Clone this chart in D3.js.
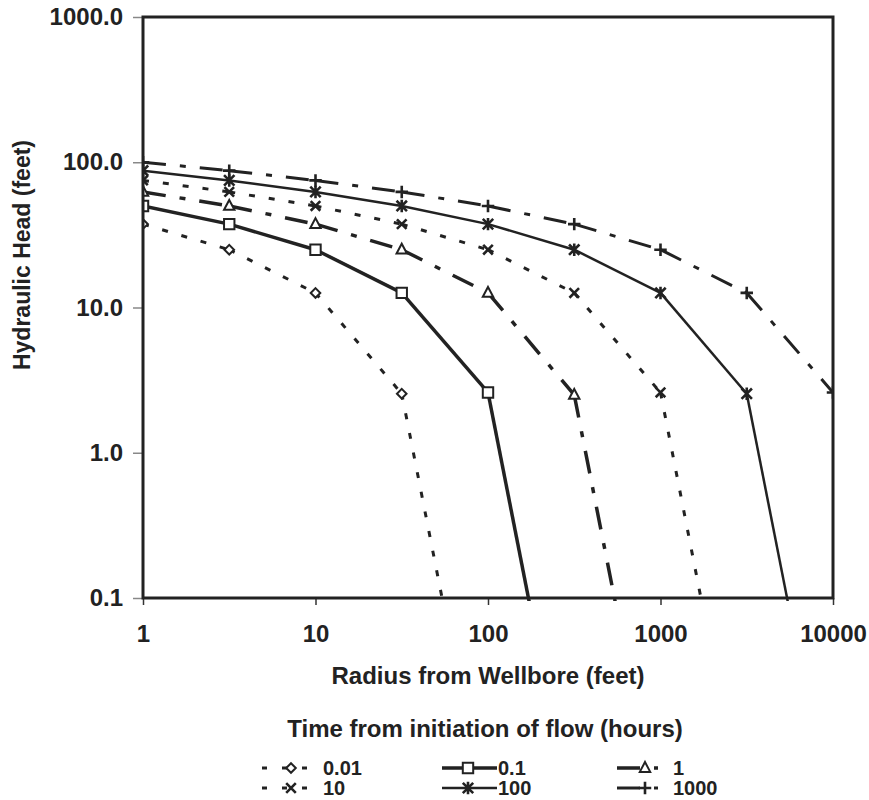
<!DOCTYPE html>
<html><head><meta charset="utf-8">
<script src="https://cdn.jsdelivr.net/npm/d3@7"></script>
<style>
body{margin:0;background:#fff}
svg{display:block}
text{font-family:"Liberation Sans",Arial,sans-serif;font-weight:bold;fill:#222}
</style>
</head><body>
<svg id="chart" width="869" height="800"></svg>
<script>
// Radial distances (feet) at which head was computed
const radii = [1, 3.162, 10, 31.62, 100, 316.2, 1000, 3162, 10000];
// Elapsed time labels (hours)
const timeLabels = ["0.01", "0.1", "1", "10", "100", "1000"];
// Hydraulic head (feet) per time step, one value per radius
const head_t0_01 = [37.5, 25, 12.6, 2.55, 0.0025];
const head_t0_1 = [50, 37.5, 25, 12.6, 2.6, 0.0025];
const head_t1 = [62.5, 50, 37.5, 25, 12.6, 2.5, 0.0025];
const head_t10 = [75, 62.5, 50, 37.5, 25, 12.6, 2.6, 0.0025];
const head_t100 = [87.5, 75, 62.5, 50, 37.5, 25, 12.6, 2.55, 0.0025];
const head_t1000 = [100, 87.5, 75, 62.5, 50, 37.5, 25, 12.6, 2.6];
// Axis tick values and labels
const xTicks = [1, 10, 100, 1000, 10000];
const yTicks = [0.1, 1, 10, 100, 1000];
const yTickLabels = ["0.1", "1.0", "10.0", "100.0", "1000.0"];

const heads = [head_t0_01, head_t0_1, head_t1, head_t10, head_t100, head_t1000];

// Line / marker appearance for each series
const seriesStyle = [
  {dash: "6,14", width: 3, marker: "diamond"},
  {dash: null, width: 3.5, marker: "square"},
  {dash: "23,14,6,14", width: 3.5, marker: "triangle"},
  {dash: "6,14", width: 3, marker: "x"},
  {dash: null, width: 2.5, marker: "asterisk"},
  {dash: "23,14,6,14", width: 3, marker: "plus"}
];

const ink = "#222";
const svg = d3.select("#chart");
const m = {left: 143, right: 833, top: 17, bottom: 598};

const x = d3.scaleLog().domain([1, 10000]).range([m.left, m.right]);
const y = d3.scaleLog().domain([0.1, 1000]).range([m.bottom, m.top]);

function markerPath(type, r) {
  switch (type) {
    case "diamond": return `M0,${-r}L${r},0L0,${r}L${-r},0Z`;
    case "square": return `M${-r},${-r}H${r}V${r}H${-r}Z`;
    case "triangle": return `M0,${-r * 1.15}L${r},${r * 0.75}L${-r},${r * 0.75}Z`;
    case "x": return `M${-r},${-r}L${r},${r}M${r},${-r}L${-r},${r}`;
    case "asterisk": return `M${-r},${-r}L${r},${r}M${r},${-r}L${-r},${r}M0,${-r * 1.2}V${r * 1.2}`;
    case "plus": return `M${-r * 1.2},0H${r * 1.2}M0,${-r * 1.2}V${r * 1.2}`;
  }
}
const markerSize = {diamond: 4.8, square: 5.2, triangle: 5.2, x: 4.8, asterisk: 5.2, plus: 5.2};
const filled = {diamond: true, square: true, triangle: true};

function drawMarker(g, type, cx, cy) {
  g.append("path")
    .attr("d", markerPath(type, markerSize[type]))
    .attr("transform", `translate(${cx},${cy})`)
    .attr("fill", filled[type] ? "#fff" : "none")
    .attr("stroke", ink)
    .attr("stroke-width", type === "x" || type === "asterisk" || type === "plus" ? 2.6 : 2);
}

// Clip region for the plotted curves
svg.append("defs").append("clipPath").attr("id", "plotClip")
  .append("rect").attr("x", m.left).attr("y", m.top)
  .attr("width", m.right - m.left).attr("height", m.bottom - m.top + 3);

// Axes
const yAxis = d3.axisLeft(y).tickValues(yTicks).tickFormat((d, i) => yTickLabels[i]).tickSize(10).tickPadding(10);
const gy = svg.append("g").attr("transform", `translate(${m.left},0)`).call(yAxis);
gy.select(".domain").remove();
gy.selectAll(".tick line").attr("stroke", "#888").attr("stroke-width", 1.5);
gy.selectAll(".tick text").attr("font-size", 24).attr("fill", ink).attr("font-family", null);

const xAxis = d3.axisBottom(x).tickValues(xTicks).tickFormat(d3.format("d")).tickSize(7).tickPadding(20);
const gx = svg.append("g").attr("transform", `translate(0,${m.bottom})`).call(xAxis);
gx.select(".domain").remove();
gx.selectAll(".tick line").attr("stroke", "#333").attr("stroke-width", 1.5);
gx.selectAll(".tick text").attr("font-size", 24).attr("fill", ink).attr("font-family", null);

// Curves: each segment is stroked on its own so the dash pattern restarts at every point
const line = d3.line().x(d => x(d[0])).y(d => y(d[1]));
const plot = svg.append("g").attr("clip-path", "url(#plotClip)");
heads.forEach((vals, si) => {
  const st = seriesStyle[si];
  const pts = vals.map((v, i) => [radii[i], v]);
  const g = plot.append("g");
  d3.pairs(pts).forEach(seg => {
    g.append("path").attr("d", line(seg))
      .attr("fill", "none").attr("stroke", ink)
      .attr("stroke-width", st.width)
      .attr("stroke-dasharray", st.dash);
  });
  pts.filter(p => p[1] >= 0.1).forEach(p => drawMarker(g, st.marker, x(p[0]), y(p[1])));
});

// Plot frame
svg.append("rect").attr("x", m.left).attr("y", m.top)
  .attr("width", m.right - m.left).attr("height", m.bottom - m.top)
  .attr("fill", "none").attr("stroke", ink).attr("stroke-width", 3);

// Axis titles
svg.append("text").attr("x", (m.left + m.right) / 2).attr("y", 684)
  .attr("text-anchor", "middle").attr("font-size", 24).text("Radius from Wellbore (feet)");
svg.append("text").attr("transform", "translate(30,255) rotate(-90)")
  .attr("text-anchor", "middle").attr("font-size", 23).text("Hydraulic Head (feet)");

// Legend
svg.append("text").attr("x", 485).attr("y", 737)
  .attr("text-anchor", "middle").attr("font-size", 24).text("Time from initiation of flow (hours)");

const legCols = [{sx: 262, len: 48, mk: 291, tx: 323}, {sx: 442, len: 55, mk: 468, tx: 498}, {sx: 617, len: 41, mk: 645, tx: 673}];
const legRows = [768, 788];
timeLabels.forEach((lab, i) => {
  const col = legCols[i % 3], ry = legRows[Math.floor(i / 3)];
  const st = seriesStyle[i];
  const g = svg.append("g");
  g.append("path").attr("d", `M${col.sx},${ry}H${col.sx + col.len}`)
    .attr("fill", "none").attr("stroke", ink)
    .attr("stroke-width", st.width).attr("stroke-dasharray", st.dash === "6,14" ? "5,15" : st.dash);
  drawMarker(g, st.marker, col.mk, ry);
  g.append("text").attr("x", col.tx).attr("y", ry + 7).attr("font-size", 20).text(lab);
});
</script>
</body></html>
